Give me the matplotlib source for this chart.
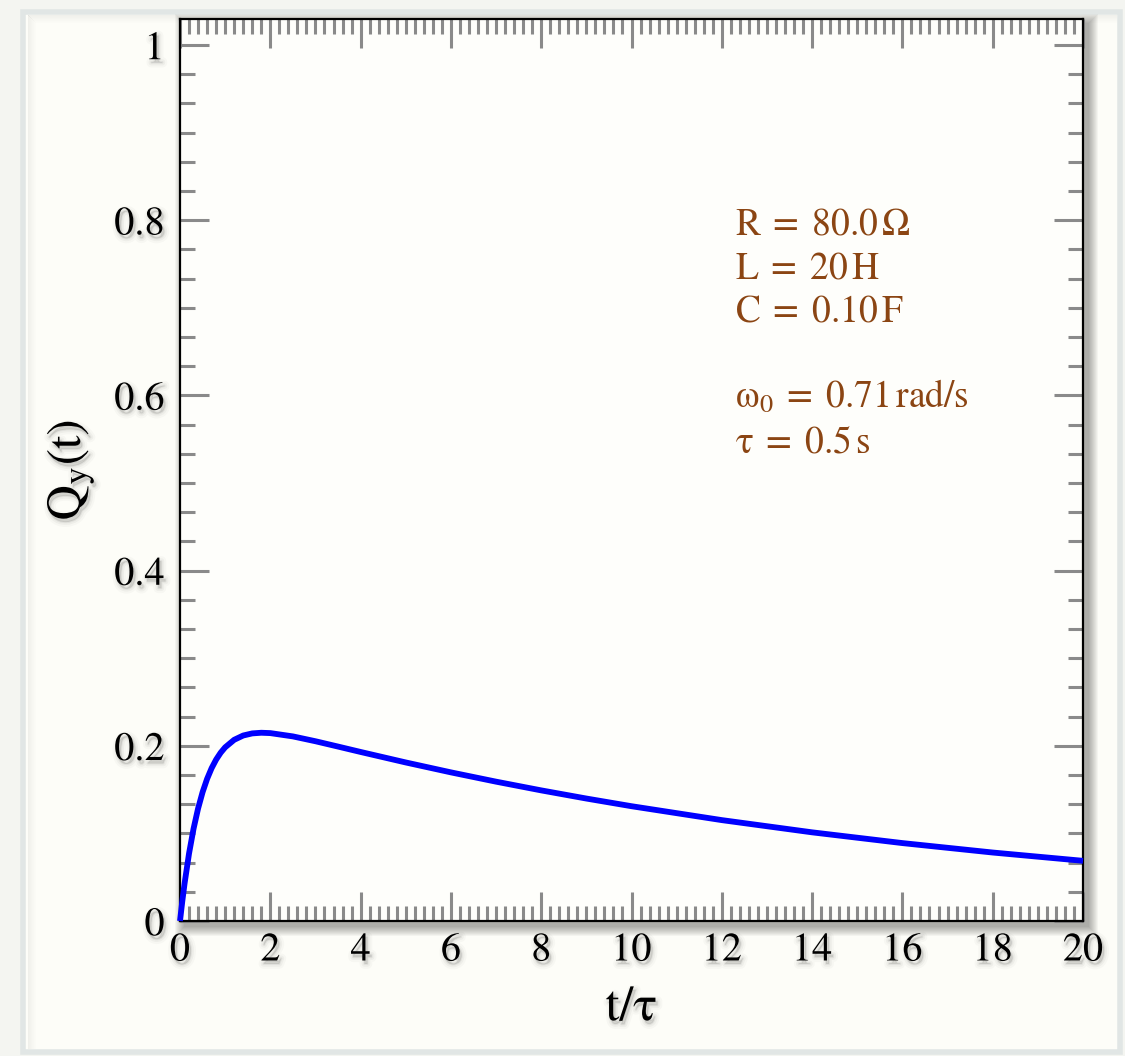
import matplotlib
matplotlib.use("Agg")
import matplotlib.pyplot as plt
import matplotlib.patheffects as pe
from matplotlib.patches import Rectangle
from matplotlib.ticker import MultipleLocator

plt.rcParams['font.family'] = ['STIXGeneral', 'DejaVu Serif']
plt.rcParams['mathtext.fontset'] = 'stix'

# charge Q_y(t) of the overdamped RLC circuit, sampled at t/tau
t_tau = [0, 0.05, 0.1, 0.2, 0.3, 0.4, 0.5, 0.6, 0.7, 0.8, 0.9, 1.0, 1.2, 1.4,
         1.6, 1.8, 2.0, 2.5, 3.0, 3.5, 4.0, 5.0, 6.0, 7.0, 8.0, 9.0, 10.0,
         12.0, 14.0, 16.0, 18.0, 20.0]
q_y = [0, 0.02225, 0.04238, 0.07703, 0.10532, 0.12835, 0.14707, 0.16222,
       0.17445, 0.18426, 0.19208, 0.19827, 0.20685, 0.21175, 0.21416,
       0.21489, 0.21450, 0.21074, 0.20521, 0.19913, 0.19297, 0.18099,
       0.16968, 0.15907, 0.14912, 0.13980, 0.13105, 0.11517, 0.10122,
       0.08895, 0.07817, 0.06870]

x_ticks = [0, 2, 4, 6, 8, 10, 12, 14, 16, 18, 20]
y_ticks = [0, 0.2, 0.4, 0.6, 0.8, 1.0]
y_tick_labels = ['0', '0.2', '0.4', '0.6', '0.8', '1']

params = [r'$\mathrm{R}\;=\;80.0\,\Omega$',
          r'$\mathrm{L}\;=\;20\,\mathrm{H}$',
          r'$\mathrm{C}\;=\;0.10\,\mathrm{F}$',
          r'$\mathrm{\omega}_0\;=\;0.71\,\mathrm{rad/s}$',
          r'$\mathrm{\tau}\;=\;0.5\,\mathrm{s}$']
param_y = [0.784, 0.734, 0.684, 0.587, 0.535]

W, H = 1125, 1056
fig = plt.figure(figsize=(W / 100, H / 100), dpi=100, facecolor='#f4f5f1')


def px(x0, y0, x1, y1):
    # pixel box (top-left origin) -> figure fraction rect
    return (x0 / W, 1 - y1 / H), (x1 - x0) / W, (y1 - y0) / H


def add_rect(x0, y0, x1, y1, **kw):
    xy, w, h = px(x0, y0, x1, y1)
    fig.patches.append(Rectangle(xy, w, h, transform=fig.transFigure, **kw))


# panel with light border and soft inner shadow
add_rect(23, 12, 1120, 1052, facecolor='#fdfdf8', edgecolor='#e1e6e5',
         linewidth=4, zorder=-3)
for i in range(8):
    a = 0.05 * (1 - i / 8)
    add_rect(28 + i, 15 + i, 1117, 16 + i, facecolor='k', alpha=a, lw=0,
             zorder=-2)
    add_rect(28 + i, 15 + i, 29 + i, 1049, facecolor='k', alpha=a, lw=0,
             zorder=-2)

# plot area and its drop shadow
L, T, R, B = 180, 19, 1083, 921
for i in range(10):
    g = 10 - i
    add_rect(L + 5 - g, T + 5 - g, R + 5 + g, B + 5 + g, facecolor='k',
             alpha=0.035, lw=0, zorder=-1)

xy, w, h = px(L, T, R, B)
ax = fig.add_axes([xy[0], xy[1], w, h], facecolor='#fefefb')
ax.set_zorder(2)

ax.plot(t_tau, q_y, color='#0000ff', lw=4.2, solid_capstyle='butt',
        solid_joinstyle='round', clip_on=False, zorder=3)

ax.set_xlim(0, 20)
ax.set_ylim(0, 1.0297)
ax.set_xticks(x_ticks)
ax.set_yticks(y_ticks)
ax.set_yticklabels(y_tick_labels)
ax.xaxis.set_minor_locator(MultipleLocator(0.2))
ax.yaxis.set_minor_locator(MultipleLocator(1 / 30))

ax.tick_params(which='both', direction='in', top=True, right=True,
               color='#8a8a8a', width=2.2, labelsize=29, labelcolor='k')
ax.tick_params(which='major', length=21)
ax.tick_params(which='minor', length=10.5)
ax.tick_params(axis='x', which='major', pad=8)
ax.tick_params(axis='y', which='major', pad=11)
for s in ax.spines.values():
    s.set_linewidth(1.6)
    s.set_color('k')

# soft grey drop shadow under the black labels
shadow = [pe.Stroke(linewidth=7, foreground='k', alpha=0.025, offset=(1.5, -2.5)),
          pe.Stroke(linewidth=4, foreground='k', alpha=0.035, offset=(1.5, -2.5)),
          pe.Stroke(linewidth=1.5, foreground='k', alpha=0.05, offset=(1.5, -2.5)),
          pe.Normal()]

ax.set_xlabel(r'$\mathrm{t/\tau}$', fontsize=36, path_effects=shadow)
ax.set_ylabel(r'$\mathrm{Q_y(t)}$', fontsize=35, path_effects=shadow)
ax.xaxis.set_label_coords(0.5, -0.072)
ax.yaxis.set_label_coords(-0.092, 0.5)
for lab in ax.get_xticklabels() + ax.get_yticklabels():
    lab.set_path_effects(shadow)

for txt, yy in zip(params, param_y):
    ax.text(0.6146, yy, txt, transform=ax.get_yaxis_transform(),
            color='#8b4513', fontsize=27, va='baseline', ha='left')

fig.savefig('out.png', dpi=100, facecolor=fig.get_facecolor())
